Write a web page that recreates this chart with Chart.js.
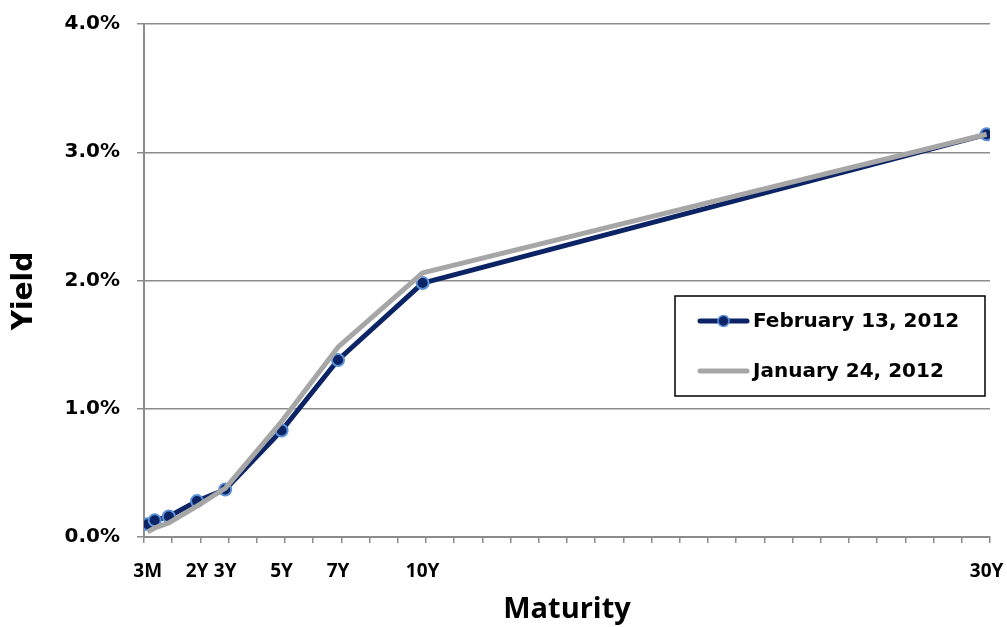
<!DOCTYPE html>
<html>
<head>
<meta charset="utf-8">
<script src="https://cdn.jsdelivr.net/npm/chart.js@4/dist/chart.umd.min.js"></script>
<style>
  html, body { margin: 0; padding: 0; background: #ffffff; }
  #wrap { width: 1007px; height: 627px; position: relative; }
</style>
</head>
<body>
<div id="wrap"><canvas id="curve" width="1007" height="627"></canvas></div>
<script>
// Treasury yield curve: maturity (years) vs yield (%)
const maturityYears = [0.25, 0.5, 1, 2, 3, 5, 7, 10, 30];
const yieldsFeb13 = [0.10, 0.13, 0.16, 0.28, 0.37, 0.83, 1.38, 1.98, 3.14];
const yieldsJan24 = [0.04, 0.07, 0.11, 0.24, 0.38, 0.90, 1.48, 2.06, 3.14];
const seriesNames = ['February 13, 2012', 'January 24, 2012'];

// Labelled maturities on the x axis
const tickLabels = ['3M', '2Y', '3Y', '5Y', '7Y', '10Y', '30Y'];
const tickLabelYears = [0.25, 2, 3, 5, 7, 10, 30];
// Yearly tick marks run from the axis start
const xAxisMin = 0.12;
const xAxisMax = 30.12;
const yTickValues = [0, 1, 2, 3, 4];
const yAxisTitle = 'Yield';

const NAVY = '#0c2466';
const MARKER_EDGE = '#5b8fd6';
const GREY = '#a6a6a6';
const AXIS = '#8c8c8c';

const toPoints = (xs, ys) => xs.map((x, i) => ({ x: x, y: ys[i] }));

// Boxed legend placed inside the plot area, plus the vertical axis title
const boxedLegend = {
  id: 'boxedLegend',
  afterDraw(chart) {
    const ctx = chart.ctx;
    const box = { x: 675, y: 296, w: 310, h: 100 };
    ctx.save();
    ctx.fillStyle = '#ffffff';
    ctx.fillRect(box.x, box.y, box.w, box.h);
    ctx.strokeStyle = '#000000';
    ctx.lineWidth = 1.5;
    ctx.strokeRect(box.x, box.y, box.w, box.h);
    const rows = [321, 371];
    chart.data.datasets.forEach((ds, i) => {
      const y = rows[i];
      ctx.strokeStyle = ds.borderColor;
      ctx.lineWidth = ds.borderWidth;
      ctx.lineCap = 'round';
      ctx.beginPath();
      ctx.moveTo(700, y);
      ctx.lineTo(747, y);
      ctx.stroke();
      if (ds.pointRadius > 0) {
        ctx.beginPath();
        ctx.arc(723.5, y, 5.5, 0, Math.PI * 2);
        ctx.fillStyle = ds.pointBackgroundColor;
        ctx.fill();
        ctx.lineWidth = 1.5;
        ctx.strokeStyle = ds.pointBorderColor;
        ctx.stroke();
      }
      ctx.fillStyle = '#000000';
      ctx.font = 'bold 20px "DejaVu Sans"';
      ctx.textAlign = 'left';
      ctx.textBaseline = 'middle';
      ctx.fillText(ds.label, 753, y + 1);
    });

    // "Yield" rotated along the left edge
    ctx.translate(25, 291);
    ctx.rotate(-Math.PI / 2);
    ctx.font = 'bold 28px "DejaVu Sans"';
    ctx.textAlign = 'center';
    ctx.textBaseline = 'middle';
    ctx.fillStyle = '#000000';
    ctx.fillText(yAxisTitle, 0, 0);
    ctx.restore();
  }
};

new Chart(document.getElementById('curve'), {
  type: 'line',
  data: {
    datasets: [
      {
        label: seriesNames[0],
        data: toPoints(maturityYears, yieldsFeb13),
        borderColor: NAVY,
        borderWidth: 5,
        pointRadius: 6,
        pointBackgroundColor: NAVY,
        pointBorderColor: MARKER_EDGE,
        pointBorderWidth: 2,
        tension: 0,
        borderJoinStyle: 'round',
        order: 1
      },
      {
        label: seriesNames[1],
        data: toPoints(maturityYears, yieldsJan24),
        borderColor: GREY,
        borderWidth: 5,
        pointRadius: 0,
        tension: 0,
        borderJoinStyle: 'round',
        order: 0
      }
    ]
  },
  options: {
    responsive: false,
    animation: false,
    devicePixelRatio: 1,
    layout: { padding: { top: 24, right: 17, bottom: 0, left: 0 } },
    plugins: {
      legend: { display: false },
      tooltip: { enabled: false }
    },
    scales: {
      x: {
        type: 'linear',
        min: xAxisMin,
        max: xAxisMax,
        afterFit(scale) {
          scale.height = 90;
          scale.paddingLeft = 0;
          scale.paddingRight = 0;
        },
        afterBuildTicks(scale) {
          const ticks = [];
          for (let v = xAxisMin; v <= xAxisMax + 1e-6; v += 1) {
            ticks.push({ value: +v.toFixed(2), mark: true });
          }
          tickLabelYears.forEach((v, i) => ticks.push({ value: v, mark: false, text: tickLabels[i] }));
          scale.ticks = ticks;
        },
        grid: {
          drawOnChartArea: false,
          tickLength: 6,
          lineWidth: 1.5,
          color: (ctx) => (ctx.tick && ctx.tick.mark ? AXIS : 'rgba(0,0,0,0)')
        },
        border: { display: true, color: AXIS, width: 2 },
        ticks: {
          autoSkip: false,
          maxRotation: 0,
          minRotation: 0,
          padding: 17,
          color: '#000000',
          font: { family: 'Open Sans', weight: 'bold', size: 19 },
          callback: (value, index, ticks) => ticks[index].text || ''
        },
        title: {
          display: true,
          text: 'Maturity',
          color: '#000000',
          font: { family: 'Open Sans', weight: 'bold', size: 29 },
          padding: { top: 0, bottom: 0 }
        }
      },
      y: {
        min: 0,
        max: 4,
        afterFit(scale) {
          scale.width = 144;
          scale.paddingTop = 0;
          scale.paddingBottom = 0;
        },
        afterBuildTicks(scale) {
          scale.ticks = yTickValues.map(v => ({ value: v }));
        },
        grid: { color: AXIS, lineWidth: 1.5, tickLength: 7 },
        border: { display: true, color: AXIS, width: 2 },
        ticks: {
          padding: 17,
          color: '#000000',
          font: { family: 'DejaVu Sans', weight: 'bold', size: 20 },
          callback: (v) => v.toFixed(1) + '%'
        }
      }
    }
  },
  plugins: [boxedLegend]
});
</script>
</body>
</html>
